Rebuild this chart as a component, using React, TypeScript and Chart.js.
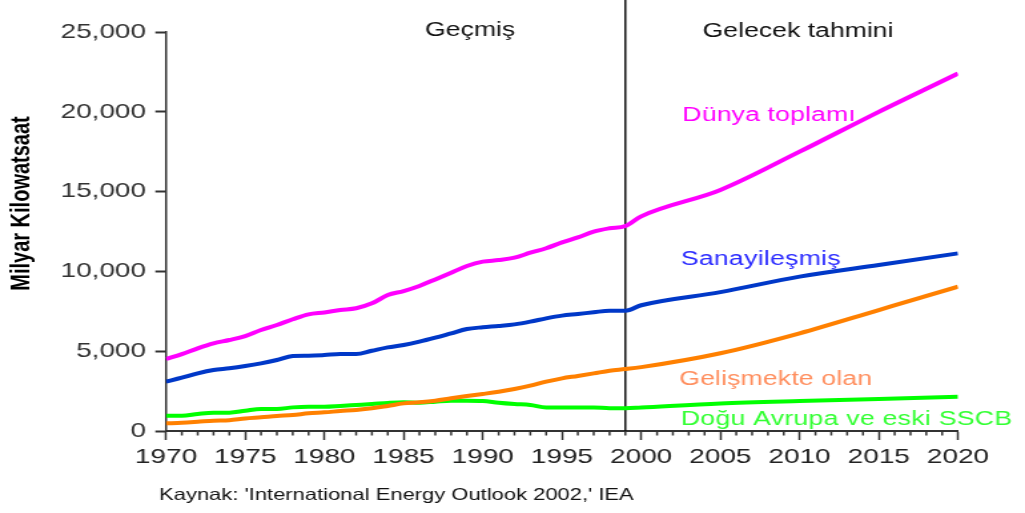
import { useEffect, useRef } from 'react';
import { Chart, registerables } from 'chart.js';

Chart.register(...registerables);

// ---------- data ----------
const YEARS = [
  1970, 1971, 1972, 1973, 1974, 1975, 1976, 1977, 1978, 1979,
  1980, 1981, 1982, 1983, 1984, 1985, 1986, 1987, 1988, 1989,
  1990, 1991, 1992, 1993, 1994, 1995, 1996, 1997, 1998, 1999,
  2000, 2005, 2010, 2015, 2020,
];
const WORLD = [
  4510, 4820, 5180, 5490, 5700, 5950, 6330, 6640, 7000, 7310,
  7430, 7580, 7690, 8000, 8520, 8770, 9090, 9500, 9920, 10340,
  10610, 10710, 10860, 11170, 11450, 11820, 12130, 12490, 12700, 12840,
  13450, 15100, 17500, 20000, 22400,
];
const INDUSTRIALIZED = [
  3090, 3340, 3610, 3820, 3930, 4070, 4240, 4450, 4700, 4720,
  4760, 4820, 4820, 5030, 5240, 5390, 5600, 5850, 6120, 6390,
  6500, 6580, 6680, 6850, 7060, 7230, 7330, 7440, 7540, 7540,
  7880, 8700, 9670, 10400, 11130,
];
const DEVELOPING = [
  480, 520, 580, 645, 680, 790, 860, 940, 1000, 1110,
  1170, 1250, 1320, 1420, 1570, 1730, 1800, 1900, 2050, 2190,
  2320, 2460, 2630, 2840, 3090, 3300, 3450, 3610, 3780, 3880,
  4000, 4870, 6120, 7580, 9040,
];
const EE_FSU = [
  960, 960, 1070, 1150, 1150, 1270, 1380, 1380, 1480, 1520,
  1520, 1570, 1630, 1690, 1760, 1800, 1770, 1840, 1900, 1900,
  1880, 1770, 1690, 1630, 1480, 1480, 1480, 1480, 1420, 1420,
  1470, 1730, 1880, 2000, 2150,
];
const SERIES_NAMES = ['Dünya toplamı', 'Sanayileşmiş', 'Gelişmekte olan', 'Doğu Avrupa ve eski SSCB'];
const X_MIN = 1970;
const X_MAX = 2020;
const X_STEP = 5;
const Y_MIN = 0;
const Y_MAX = 25000;
const Y_STEP = 5000;
const DIVIDER_YEAR = 1999;
const PERIOD_LABELS = ['Geçmiş', 'Gelecek tahmini'];
const Y_TITLE = 'Milyar Kilowatsaat';
const SOURCE = "Kaynak: 'International Energy Outlook 2002,' IEA";

// ---------- layout / style ----------
const CSS_W = 1025;
const CSS_H = 513;
const BW = 770; // bitmap width (image is stretched horizontally)
const BH = 513;
const S = CSS_W / BW;
const FONT = "'Liberation Sans', Arial, sans-serif";

const toPts = (vals: number[]) => YEARS.map((x, i) => ({ x, y: vals[i] }));

const LINE_COLORS = ['#FF00FF', '#0038C8', '#FF8000', '#00FF00'];
const LABEL_COLORS = ['#FF00FF', '#2B2BFF', '#FF8F5F', '#33FF33'];
const LABEL_SPACING = ['0.1px', '0.2px', '0.1px', '0.2px'];
// label anchors in data units (year, value) : left-aligned baseline
const LABEL_ANCHORS: [number, number][] = [
  [2002.6, 19420],
  [2002.5, 10400],
  [2002.4, 2880],
  [2002.5, 376],
];
const PERIOD_ANCHORS: [number, number][] = [
  [1989.2, 24720],
  [2009.9, 24690],
];

const overlay = {
  id: 'overlay',
  beforeDatasetsDraw(chart: any) {
    const { ctx, chartArea, scales } = chart;
    const x = scales.x.getPixelForValue(DIVIDER_YEAR);
    ctx.save();
    ctx.strokeStyle = '#111';
    ctx.lineWidth = 1.5;
    ctx.beginPath();
    ctx.moveTo(x, 0);
    ctx.lineTo(x, chartArea.bottom);
    ctx.stroke();
    ctx.restore();
  },
  afterDraw(chart: any) {
    const { ctx, chartArea, scales } = chart;
    const xs = scales.x;
    const ys = scales.y;
    ctx.save();
    // minor ticks every year
    ctx.strokeStyle = '#333';
    ctx.lineWidth = 1.5;
    for (let yr = X_MIN; yr <= X_MAX; yr++) {
      if (yr % X_STEP === 0) continue;
      const px = xs.getPixelForValue(yr);
      ctx.beginPath();
      ctx.moveTo(px, chartArea.bottom);
      ctx.lineTo(px, chartArea.bottom + 4.5);
      ctx.stroke();
    }
    // period labels
    ctx.font = `20px ${FONT}`;
    ctx.fillStyle = '#111';
    ctx.textAlign = 'center';
    ctx.textBaseline = 'alphabetic';
    PERIOD_LABELS.forEach((t, i) => {
      const [vx, vy] = PERIOD_ANCHORS[i];
      ctx.fillText(t, xs.getPixelForValue(vx), ys.getPixelForValue(vy));
    });
    // series labels
    ctx.textAlign = 'left';
    SERIES_NAMES.forEach((t, i) => {
      const [vx, vy] = LABEL_ANCHORS[i];
      ctx.fillStyle = LABEL_COLORS[i];
      (ctx as any).letterSpacing = LABEL_SPACING[i];
      ctx.fillText(t, xs.getPixelForValue(vx), ys.getPixelForValue(vy));
    });
    (ctx as any).letterSpacing = '0px';
    // source
    ctx.font = `16.5px ${FONT}`;
    ctx.fillStyle = '#111';
    ctx.fillText(SOURCE, 159 / S, 500);
    // y title
    ctx.translate(22.5 / S, 203.5);
    ctx.rotate(-Math.PI / 2);
    ctx.font = `bold 20px ${FONT}`;
    ctx.fillStyle = '#000';
    ctx.textAlign = 'center';
    ctx.textBaseline = 'middle';
    ctx.fillText(Y_TITLE, 0, 0);
    ctx.restore();
  },
};

export default function App() {
  const ref = useRef<HTMLCanvasElement>(null);
  useEffect(() => {
    document.body.style.margin = '0';
    const seriesVals = [WORLD, INDUSTRIALIZED, DEVELOPING, EE_FSU];
    const chart = new Chart(ref.current as HTMLCanvasElement, {
      type: 'line',
      data: {
        datasets: seriesVals.map((vals, i) => ({
          label: SERIES_NAMES[i],
          data: toPts(vals),
          borderColor: LINE_COLORS[i],
          backgroundColor: LINE_COLORS[i],
          borderWidth: 4,
          pointRadius: 0,
          cubicInterpolationMode: 'monotone' as const,
          fill: false,
        })),
      },
      options: {
        animation: false,
        responsive: false,
        devicePixelRatio: 1,
        events: [],
        layout: {
          autoPadding: false,
          padding: { left: 0, right: BW - 958 / S, top: 32, bottom: 0 },
        },
        plugins: {
          legend: { display: false },
          tooltip: { enabled: false },
        },
        scales: {
          x: {
            type: 'linear',
            min: X_MIN,
            max: X_MAX,
            afterFit(s: any) {
              s.height = BH - 431;
            },
            ticks: {
              stepSize: X_STEP,
              autoSkip: false,
              maxRotation: 0,
              color: '#222',
              padding: 5,
              font: { family: FONT, size: 21 },
              callback: (v: any) => String(v),
            },
            grid: {
              drawOnChartArea: false,
              drawTicks: true,
              tickLength: 9,
              tickWidth: 1.5,
              tickColor: '#333',
            },
            border: { display: true, color: '#333', width: 2 },
          },
          y: {
            type: 'linear',
            min: Y_MIN,
            max: Y_MAX,
            afterFit(s: any) {
              s.width = 166 / S;
            },
            ticks: {
              stepSize: Y_STEP,
              color: '#333',
              padding: 7,
              font: { family: FONT, size: 21 },
              callback: (v: any) => Number(v).toLocaleString('en-US'),
            },
            grid: {
              drawOnChartArea: false,
              drawTicks: true,
              tickLength: 8,
              tickWidth: 2,
              tickColor: '#333',
            },
            border: { display: true, color: '#333', width: 1.5 },
          },
        },
      },
      plugins: [overlay],
    } as any);
    return () => chart.destroy();
  }, []);
  return (
    <canvas
      ref={ref}
      width={BW}
      height={BH}
      style={{ display: 'block', width: `${CSS_W}px`, height: `${CSS_H}px` }}
    />
  );
}
